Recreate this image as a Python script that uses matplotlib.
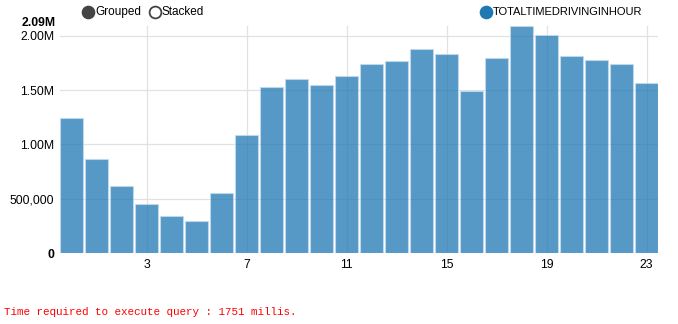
import numpy as np
import matplotlib.pyplot as plt
import matplotlib.transforms as mtransforms
from matplotlib.lines import Line2D

hours = list(range(24))
total_time = [1.244e6, 0.864e6, 0.617e6, 0.454e6, 0.344e6, 0.292e6, 0.550e6, 1.088e6,
              1.533e6, 1.606e6, 1.545e6, 1.634e6, 1.742e6, 1.767e6, 1.877e6, 1.834e6,
              1.490e6, 1.797e6, 2.092e6, 2.009e6, 1.813e6, 1.779e6, 1.742e6, 1.570e6]
x_ticks = [3, 7, 11, 15, 19, 23]
y_ticks = [0, 500000, 1000000, 1500000, 2000000]
y_labels = ['0', '500,000', '1.00M', '1.50M', '2.00M']
series_name = 'TOTALTIMEDRIVINGINHOUR'
footer = 'Time required to execute query : 1751 millis.'

plt.rcParams['font.family'] = ['Liberation Sans', 'DejaVu Sans']

W, H = 678, 324
fig = plt.figure(figsize=(W / 100, H / 100), dpi=100)
ax = fig.add_axes([60 / W, (H - 253) / H, 598 / W, (253 - 26) / H])

ymax = max(total_time)
ax.bar(hours, total_time, width=0.9, color='#1f77b4', alpha=0.75,
       edgecolor='#c6dcee', linewidth=0.8, zorder=2)

ax.set_xlim(-0.46, 23.46)
ax.set_ylim(0, ymax)
ax.set_xticks(x_ticks)
ax.set_xticklabels([str(t) for t in x_ticks])
ax.set_yticks(y_ticks)
ax.set_yticklabels(y_labels)
ax.get_yticklabels()[0].set_fontweight('bold')
ax.tick_params(length=0, labelsize=8.8, pad=4, colors='#000000')
ax.grid(True, color='#e2e2e2', linewidth=0.9, zorder=0)
ax.set_axisbelow(True)
for s in ax.spines.values():
    s.set_visible(False)

# max value label at the top of the y axis, nudged up a little
top_tr = mtransforms.blended_transform_factory(ax.transAxes, ax.transData) + \
    mtransforms.ScaledTranslation(-4 / 100, 2.5 / 100, fig.dpi_scale_trans)
ax.text(0, ymax, '%.2fM' % (ymax / 1e6), transform=top_tr, fontsize=8.8,
        fontweight='bold', ha='right', va='center')

# legend row at the top
def legend_item(x, y, label, face, edge, size=8.5):
    fig.add_artist(Line2D([x / W], [1 - y / H], marker='o', markersize=8.5,
                          markerfacecolor=face, markeredgecolor=edge,
                          markeredgewidth=1.3, linestyle='none'))
    fig.text((x + 7) / W, 1 - y / H, label, fontsize=size, va='center', ha='left')

legend_item(88, 12, 'Grouped', '#444444', '#444444')
legend_item(155, 12, 'Stacked', 'white', '#444444')
legend_item(486, 12, series_name, '#1f77b4', '#1f77b4', size=8)

fig.text(4 / W, 1 - 312 / H, footer, fontsize=7.8, color='red',
         family=['Liberation Mono', 'DejaVu Sans Mono'], va='center', ha='left')

fig.savefig('out.png', dpi=100)
